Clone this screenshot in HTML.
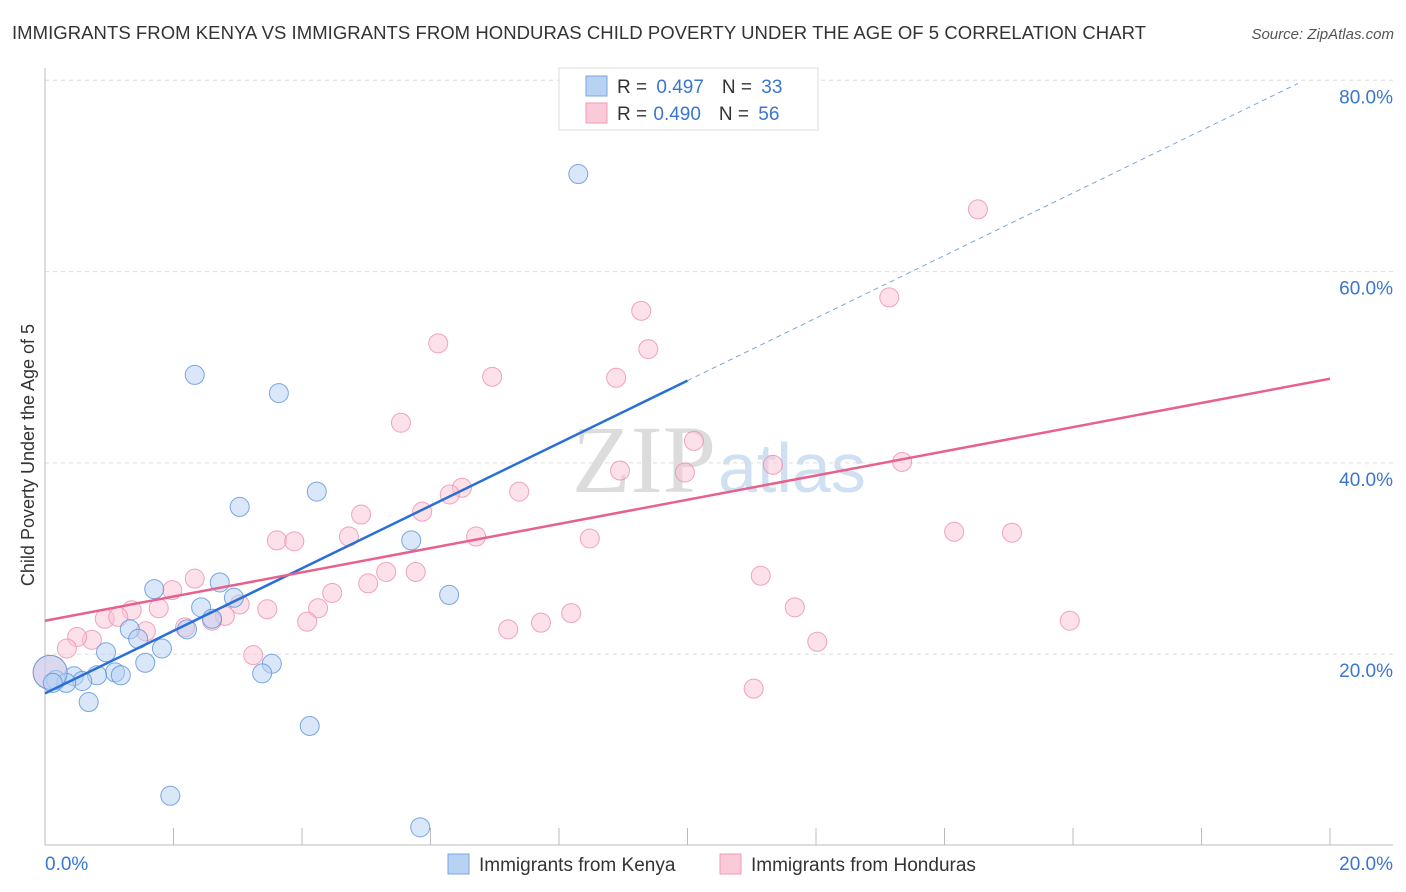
<!DOCTYPE html>
<html><head><meta charset="utf-8"><style>
body{margin:0;background:#fff;font-family:"Liberation Sans",sans-serif;}
#wrap{position:relative;width:1406px;height:892px;overflow:hidden;}
</style></head><body>
<div id="wrap">
<svg id="chart" width="1406" height="892">
<text x="12" y="39" font-size="18.5" fill="#333" textLength="1134">IMMIGRANTS FROM KENYA VS IMMIGRANTS FROM HONDURAS CHILD POVERTY UNDER THE AGE OF 5 CORRELATION CHART</text>
<text x="1394" y="39" font-size="15" fill="#555" font-style="italic" text-anchor="end">Source: ZipAtlas.com</text>
<text x="716" y="492" font-size="96" fill="#dcdcdc" font-family="Liberation Serif,serif" text-anchor="end">ZIP</text>
<text x="718" y="492" font-size="70" fill="#cfe0f3">atlas</text>
<text transform="translate(34,455) rotate(-90)" font-size="18" fill="#333" text-anchor="middle">Child Poverty Under the Age of 5</text>
<g id="grid"></g><g id="pts"></g><g id="lines"></g>
<g>
<rect x="559" y="68" width="259" height="62" fill="#fff" stroke="#ddd"/>
<rect x="586" y="76" width="21" height="20" fill="#b8d2f4" stroke="#7aa6e0"/>
<rect x="586" y="103" width="21" height="20" fill="#fbcad8" stroke="#f09ab4"/>
<text x="617" y="93" font-size="19" fill="#333">R = <tspan fill="#3a76d0" dx="4">0.497</tspan><tspan dx="18" fill="#333">N = </tspan><tspan fill="#3a76d0" dx="4">33</tspan></text>
<text x="617" y="120" font-size="19" fill="#333">R = <tspan fill="#3a76d0" dx="1">0.490</tspan><tspan dx="18" fill="#333">N = </tspan><tspan fill="#3a76d0" dx="4">56</tspan></text>
</g>
<rect x="448" y="854" width="21" height="20" fill="#b8d2f4" stroke="#7aa6e0"/>
<text x="479" y="871" font-size="19" fill="#333">Immigrants from Kenya</text>
<rect x="720" y="854" width="21" height="20" fill="#fbcad8" stroke="#f09ab4"/>
<text x="751" y="871" font-size="19" fill="#333">Immigrants from Honduras</text>
</svg>
</div>
<script>
const kenyaX=[8.30,2.33,3.64,4.23,3.03,5.70,6.29,1.70,2.72,2.94,2.43,2.60,1.32,2.21,1.45,0.95,1.82,1.56,3.53,3.38,1.09,1.18,0.81,0.45,0.58,0.17,0.33,0.68,4.12,1.95,5.84,0.08,0.12];
const kenyaY=[70.2,49.2,47.3,37.0,35.4,31.9,26.2,26.8,27.5,25.9,24.9,23.7,22.6,22.6,21.6,20.2,20.6,19.1,19.0,18.0,18.1,17.8,17.8,17.7,17.2,17.3,17.0,15.0,12.5,5.2,1.9,18.1,17.0];
const hondX=[14.52,13.14,9.28,9.39,6.12,8.89,6.96,5.54,10.10,11.33,13.34,8.95,9.96,6.49,6.30,7.38,4.92,5.87,4.73,6.71,8.48,14.15,15.05,3.61,3.88,11.14,5.31,5.77,5.03,4.47,2.33,1.98,4.25,3.46,1.77,1.35,3.03,0.93,1.14,2.80,2.60,4.08,11.67,8.19,7.72,7.21,1.57,2.18,0.73,0.50,0.34,12.02,3.24,15.95,11.03,0.08];
const hondY=[66.5,57.3,55.9,51.9,52.5,48.9,49.0,44.2,42.3,39.8,40.1,39.2,39.0,37.4,36.7,37.0,34.6,34.9,32.3,32.3,32.1,32.8,32.7,31.9,31.8,28.2,28.6,28.6,27.4,26.4,27.9,26.7,24.8,24.7,24.8,24.6,25.2,23.7,23.9,24.0,23.5,23.4,24.9,24.3,23.3,22.6,22.4,22.8,21.5,21.8,20.6,21.3,19.9,23.5,16.4,18.1];
const kenyaLine=[15.9,3.27];
const hondLine=[23.5,1.265];
const yTicks=[20,40,60,80];
const xTickLabels=["0.0%","20.0%"];
const sx=v=>45+v*1285/20, sy=v=>845.5-v*191.3/20;
const NS="http://www.w3.org/2000/svg";
function mk(p,t,a){const e=document.createElementNS(NS,t);for(const k in a)e.setAttribute(k,a[k]);p.appendChild(e);return e;}
const g=document.getElementById('grid');
yTicks.forEach(t=>{
 const l=mk(g,'line',{x1:45,x2:1393,y1:sy(t),y2:sy(t),stroke:'#ddd','stroke-dasharray':'4,4'});
 
 
 const tx=mk(g,'text',{x:1393,y:sy(t)+23,'font-size':19,fill:'#3a76d0','text-anchor':'end'});tx.textContent=t.toFixed(1)+'%';
 
 
});
const ax=mk(g,'line',{x1:45,x2:1393,y1:845,y2:845,stroke:'#bbb'});


const ay=mk(g,'line',{x1:45,x2:45,y1:68,y2:845,stroke:'#bbb'});


for(let i=1;i<=10;i++){const tk=mk(g,'line',{x1:sx(i*2),x2:sx(i*2),y1:828,y2:845,stroke:'#bbb'});
 
 }
[[0,'start',45],[20,'end',1393]].forEach((d,i)=>{const tx=mk(g,'text',{x:d[2],y:870,'font-size':19,fill:'#3a76d0','text-anchor':d[1]});tx.textContent=xTickLabels[i];
 
 });
const P=document.getElementById('pts');
function dots(X,Y,fill,stroke,name){X.forEach((x,i)=>{const big=x<0.1;
 const c=mk(P,'circle',{cx:sx(x),cy:sy(Y[i]),r:big?17:9.5,fill:fill,stroke:stroke,'stroke-width':1,'fill-opacity':0.5,'stroke-opacity':0.8});
 
 });}
dots(hondX,hondY,'#fbc4d5','#ec8fae','honduras-point');
dots(kenyaX,kenyaY,'#b5d0f3','#5a92dc','kenya-point');
const L=document.getElementById('lines');
const f=(ln,x)=>ln[0]+ln[1]*x;
let e=mk(L,'line',{x1:sx(0),y1:sy(f(kenyaLine,0)),x2:sx(10),y2:sy(f(kenyaLine,10)),stroke:'#2a6fd6','stroke-width':2.5});


e=mk(L,'line',{x1:sx(10),y1:sy(f(kenyaLine,10)),x2:sx(19.5),y2:sy(f(kenyaLine,19.5)),stroke:'#7aa6e0','stroke-width':1,'stroke-dasharray':'5,4'});


e=mk(L,'line',{x1:sx(0),y1:sy(f(hondLine,0)),x2:sx(20),y2:sy(f(hondLine,20)),stroke:'#e8608c','stroke-width':2.5});


</script>
</body></html>
